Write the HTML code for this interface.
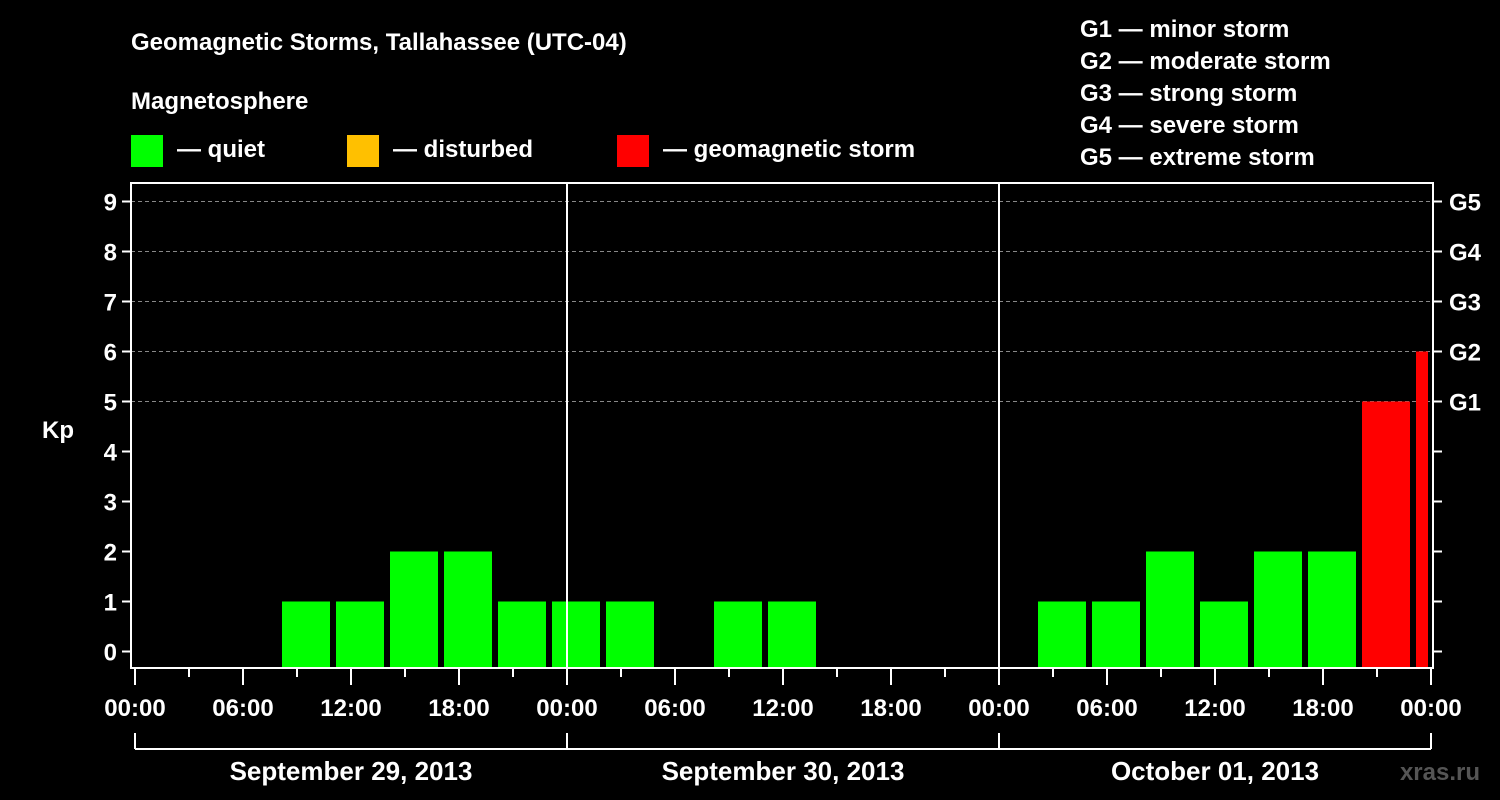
<!DOCTYPE html>
<html><head><meta charset="utf-8"><style>
html,body{margin:0;padding:0;background:#000;width:1500px;height:800px;overflow:hidden}
svg text{font-family:"Liberation Sans",Arial,sans-serif;font-weight:bold;fill:#fff}
</style></head><body>
<svg id="chart" width="1500" height="800" xmlns="http://www.w3.org/2000/svg">
<text x="131" y="50" font-size="24">Geomagnetic Storms, Tallahassee (UTC-04)</text>
<text x="131" y="109" font-size="24">Magnetosphere</text>
<rect x="131" y="135" width="32" height="32" fill="#00ff00"/>
<text x="177" y="157" font-size="24">— quiet</text>
<rect x="347" y="135" width="32" height="32" fill="#ffc000"/>
<text x="393" y="157" font-size="24">— disturbed</text>
<rect x="617" y="135" width="32" height="32" fill="#ff0000"/>
<text x="663" y="157" font-size="24">— geomagnetic storm</text>
<g font-size="24">
<text x="1080" y="37">G1 — minor storm</text>
<text x="1080" y="69">G2 — moderate storm</text>
<text x="1080" y="101">G3 — strong storm</text>
<text x="1080" y="133">G4 — severe storm</text>
<text x="1080" y="165">G5 — extreme storm</text>
</g>
<text x="42" y="438" font-size="24">Kp</text>
<text x="1480" y="780" font-size="24" text-anchor="end" fill="#555" style="fill:#555">xras.ru</text>
<g id="grid"></g><g id="bars"></g><g id="axes"></g>
</svg>
<script>
const kpValues=[0,0,1,1,2,2,1,1,1,0,1,1,0,0,0,0,1,1,2,1,2,2,5,6];
const slotStartHour=2;
const yTicks=[0,1,2,3,4,5,6,7,8,9];
const gLabels=["","","","","","G1","G2","G3","G4","G5"];
const hourLabels=["00:00","06:00","12:00","18:00"];
const dayLabels=["September 29, 2013","September 30, 2013","October 01, 2013"];
const NS="http://www.w3.org/2000/svg";
const L=131,R=1433,T=183,B=668,X0=135,PXH=18,TOTALH=72;
const xs=h=>X0+h*PXH, ys=v=>651.5-50*v;
function mk(tag,attrs,parent,txt){const e=document.createElementNS(NS,tag);for(const k in attrs)e.setAttribute(k,attrs[k]);if(txt!==undefined)e.textContent=txt;parent.appendChild(e);return e;}
const grid=document.getElementById('grid'),bars=document.getElementById('bars'),axes=document.getElementById('axes');
yTicks.forEach((v,i)=>{
  const y=ys(v);
  if(v>=5){const g=mk('line',{x1:L,x2:R,y1:y,y2:y,stroke:'#888','stroke-dasharray':'4,3','stroke-width':1},grid);
    
    }
  mk('line',{x1:L-9,x2:L,y1:y,y2:y,stroke:'#fff','stroke-width':2},axes);
  mk('line',{x1:R,x2:R+9,y1:y,y2:y,stroke:'#fff','stroke-width':2},axes);
  const t=mk('text',{x:L-14,y:y+9,'font-size':24,'text-anchor':'end'},axes,String(v));
  
  
  if(gLabels[i]){const g=mk('text',{x:R+16,y:y+9,'font-size':24},axes,gLabels[i]);
    
    }
});
kpValues.forEach((v,i)=>{
  if(v<=0)return;
  const h=slotStartHour+3*i;
  const x1=xs(h)+3, x2=Math.min(xs(h+3)-3,xs(TOTALH)-3);
  const col=v>=5?'#ff0000':(v>=4?'#ffc000':'#00ff00');
  const r=mk('rect',{x:x1,y:ys(v),width:Math.max(0,x2-x1),height:B-ys(v),fill:col},bars);
  
  
});
// frame
mk('rect',{x:L,y:T,width:R-L,height:B-T,fill:'none',stroke:'#fff','stroke-width':2},axes);
for(let d=1;d<3;d++)mk('line',{x1:xs(24*d),x2:xs(24*d),y1:T,y2:B,stroke:'#fff','stroke-width':2},axes);
for(let h=0;h<=TOTALH;h+=3){
  const major=h%6===0;
  mk('line',{x1:xs(h),x2:xs(h),y1:B,y2:B+(major?17:9),stroke:'#fff','stroke-width':2},axes);
  if(major){const t=mk('text',{x:xs(h),y:716,'font-size':24,'text-anchor':'middle'},axes,h===TOTALH?hourLabels[0]:hourLabels[(h%24)/6]);
    
    }
}
mk('line',{x1:xs(0),x2:xs(TOTALH),y1:749,y2:749,stroke:'#fff','stroke-width':2},axes);
for(let d=0;d<=3;d++)mk('line',{x1:xs(24*d),x2:xs(24*d),y1:733,y2:749,stroke:'#fff','stroke-width':2},axes);
dayLabels.forEach((s,d)=>{const t=mk('text',{x:xs(24*d+12),y:780,'font-size':26,'text-anchor':'middle'},axes,s);
  
  });
</script>
</body></html>
